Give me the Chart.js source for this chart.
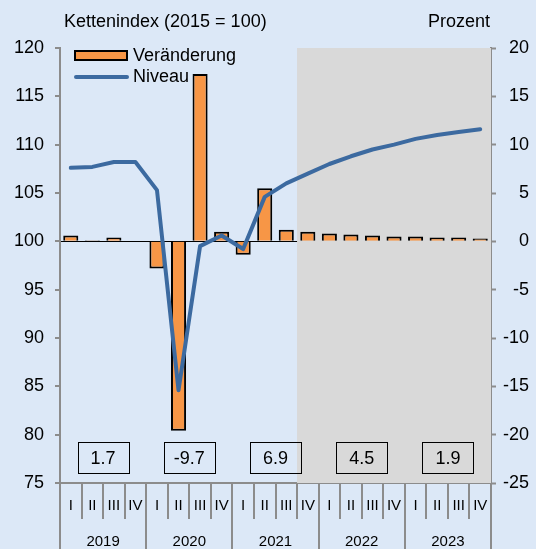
<!DOCTYPE html>
<html><head><meta charset="utf-8">
<script src="https://cdn.jsdelivr.net/npm/chart.js@4.4.1/dist/chart.umd.min.js"></script>
<style>
html,body{margin:0;padding:0;background:#dce8f7;}
#wrap{width:536px;height:549px;position:relative;}
</style></head>
<body><div id="wrap"><canvas id="c" width="536" height="549"></canvas></div>
<script>
const quarters = ['I','II','III','IV','I','II','III','IV','I','II','III','IV','I','II','III','IV','I','II','III','IV'];
const years = ['2019','2020','2021','2022','2023'];
const annualRates = ['1.7','-9.7','6.9','4.5','1.9'];
const veraenderung = [0.6,0.1,0.4,0.0,-2.8,-19.6,17.3,1.0,-1.4,5.5,1.2,1.0,0.8,0.7,0.6,0.5,0.5,0.4,0.4,0.3];
const niveau = [107.6,107.7,108.2,108.2,105.3,84.6,99.5,100.6,99.2,104.6,106.0,107.0,108.0,108.8,109.5,110.0,110.6,111.0,111.3,111.6];
const leftTicks = {min:75,max:120,step:5};
const rightTicks = {min:-25,max:20,step:5};
const forecastStart = 11;

const FONT = '"Liberation Sans", Arial, sans-serif';
const AXIS_GRAY = '#8c8c8c';

const deco = {
  id:'deco',
  beforeDatasetsDraw(chart){
    const {ctx, chartArea:a, scales:{x}} = chart;
    const half = (x.getPixelForValue(1)-x.getPixelForValue(0))/2;
    const xs = x.getPixelForValue(forecastStart)-half;
    ctx.save();
    ctx.fillStyle = '#d9d9d9';
    ctx.fillRect(xs, a.top, a.right-xs, a.bottom-a.top);
    ctx.restore();
  },
  afterDatasetsDraw(chart){
    const {ctx, chartArea:a, scales:{x, y}} = chart;
    ctx.save();
    ctx.font = '18px '+FONT;
    ctx.textAlign='center'; ctx.textBaseline='middle';
    ctx.strokeStyle='#000'; ctx.lineWidth=1; ctx.fillStyle='#000';
    const yc = y.getPixelForValue(77.6);
    years.forEach((yr,k)=>{
      const cx = (x.getPixelForValue(4*k+1)+x.getPixelForValue(4*k+2))/2;
      ctx.strokeRect(Math.round(cx-25.5)+0.5, Math.round(yc-15.5)+0.5, 51, 31);
      ctx.fillText(annualRates[k], cx, yc+1);
    });
    // legend
    ctx.textAlign='left';
    ctx.fillStyle='#f79646';
    ctx.fillRect(75,51,52,9);
    ctx.lineWidth=2; ctx.strokeStyle='#000';
    ctx.strokeRect(75,51,52,9);
    ctx.fillStyle='#000';
    ctx.fillText('Veränderung',133,56);
    ctx.strokeStyle='#3c6aa0'; ctx.lineWidth=4; ctx.lineCap='round';
    ctx.beginPath(); ctx.moveTo(76,77); ctx.lineTo(127,77); ctx.stroke();
    ctx.fillText('Niveau',133,77);
    // axis titles
    ctx.fillText('Kettenindex (2015 = 100)',64,22);
    ctx.textAlign='right';
    ctx.fillText('Prozent',490,22);
    ctx.restore();
  }
};

new Chart(document.getElementById('c'),{
  data:{
    labels: quarters,
    datasets:[
      {type:'line', label:'Niveau', data:niveau, yAxisID:'y', xAxisID:'x',
       borderColor:'#3c6aa0', borderWidth:4, pointRadius:0, tension:0, order:0, borderJoinStyle:'round', borderCapStyle:'round'},
      {type:'bar', label:'Veränderung', data:veraenderung, yAxisID:'y2', xAxisID:'x',
       backgroundColor:'#f79646', borderColor:'#000', borderWidth:2, borderSkipped:'start',
       barPercentage:0.7, categoryPercentage:1, order:1}
    ]
  },
  options:{
    responsive:false, animation:false,
    layout:{padding:{top:48,left:0,right:7,bottom:0}},
    plugins:{legend:{display:false}, tooltip:{enabled:false}},
    scales:{
      x:{type:'category', position:'bottom', offset:true,
         grid:{offset:true, drawOnChartArea:false, drawTicks:true, tickLength:36, color:AXIS_GRAY, lineWidth:2},
         border:{display:true, color:AXIS_GRAY, width:2},
         ticks:{font:{family:FONT,size:15}, color:'#000', padding:-22, maxRotation:0, autoSkip:false},
         afterFit(s){ s.height = 36; }
      },
      x2:{type:'category', position:'bottom', offset:true, labels:years,
         grid:{offset:true, drawOnChartArea:false, drawTicks:true, tickLength:30, color:AXIS_GRAY, lineWidth:2},
         border:{display:false},
         ticks:{font:{family:FONT,size:15}, color:'#000', padding:-16, maxRotation:0, autoSkip:false},
         afterFit(s){ s.height = 30; }
      },
      y:{position:'left', min:leftTicks.min, max:leftTicks.max,
         ticks:{stepSize:leftTicks.step, font:{family:FONT,size:18}, color:'#000', padding:11},
         grid:{drawOnChartArea:false, tickLength:5, color:AXIS_GRAY, lineWidth:2},
         border:{color:AXIS_GRAY, width:2},
         afterFit(s){ s.width = 60; }
      },
      y2:{position:'right', min:rightTicks.min, max:rightTicks.max,
         ticks:{stepSize:rightTicks.step, font:{family:FONT,size:18}, color:'#000', padding:4, crossAlign:'far'},
         grid:{drawOnChartArea:true, tickLength:5, tickColor:AXIS_GRAY, tickWidth:2,
               color:(c)=> (c.tick && c.tick.value===0) ? '#000' : 'rgba(0,0,0,0)', lineWidth:1},
         border:{color:AXIS_GRAY, width:2},
         afterFit(s){ s.width = 38; }
      }
    }
  },
  plugins:[deco]
});
</script></body></html>
